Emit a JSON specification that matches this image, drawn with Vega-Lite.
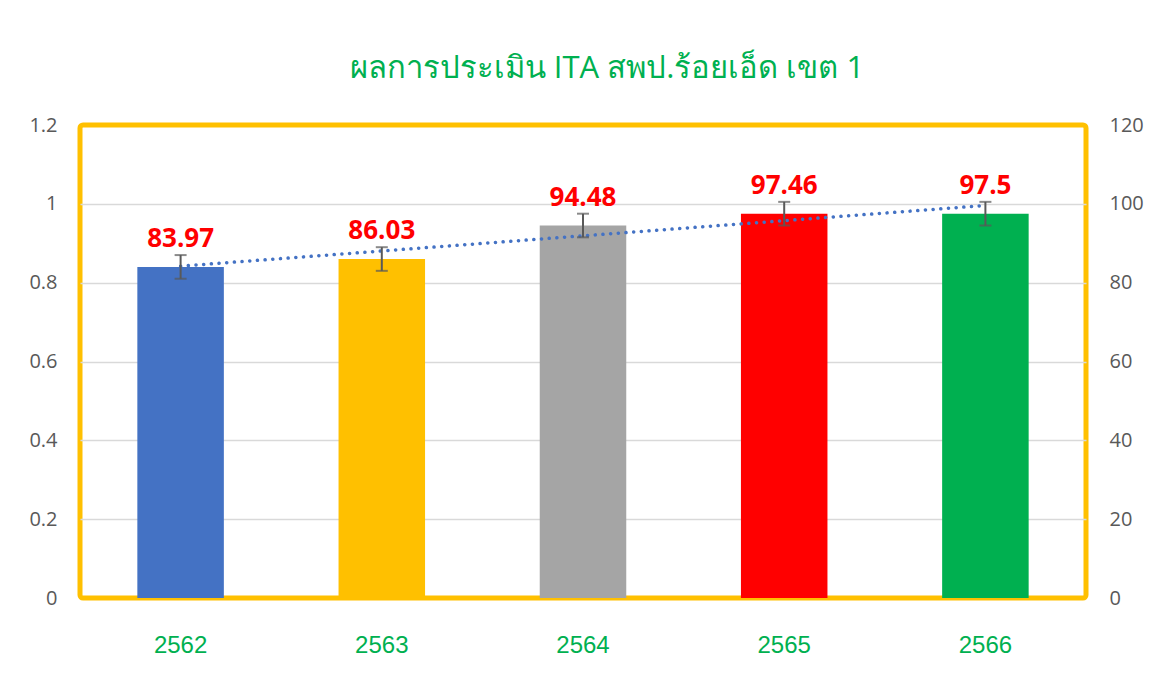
{
  "$schema": "https://vega.github.io/schema/vega-lite/v6.json",
  "width": 1006,
  "height": 473,
  "padding": {"left": 28, "top": 53, "right": 5, "bottom": 5},
  "background": "white",
  "title": {
    "text": "ผลการประเมิน ITA สพป.ร้อยเอ็ด เขต 1",
    "color": "#00B050",
    "fontSize": 31,
    "font": "Open Sans",
    "fontWeight": "normal",
    "dx": 24,
    "offset": 30
  },
  "data": {
    "values": [
      {"year": "2562", "score": 83.97, "lo": 81, "hi": 87, "trend": 84.19},
      {"year": "2563", "score": 86.03, "lo": 83, "hi": 89, "trend": 88.04},
      {"year": "2564", "score": 94.48, "lo": 91.5, "hi": 97.5, "trend": 91.89},
      {"year": "2565", "score": 97.46, "lo": 94.5, "hi": 100.5, "trend": 95.74},
      {"year": "2566", "score": 97.5, "lo": 94.5, "hi": 100.5, "trend": 99.59}
    ]
  },
  "encoding": {
    "x": {
      "field": "year",
      "type": "nominal",
      "scale": {"paddingInner": 0.57, "paddingOuter": 0.285},
      "axis": {
        "title": null,
        "labelAngle": 0,
        "labelColor": "#00B050",
        "labelFont": "Liberation Sans",
        "labelFontSize": 24,
        "labelPadding": 35,
        "ticks": false,
        "domain": false
      }
    }
  },
  "layer": [
    {
      "mark": {"type": "bar"},
      "encoding": {
        "y": {
          "field": "score",
          "type": "quantitative",
          "scale": {"domain": [0, 120], "nice": false},
          "axis": {
            "orient": "left",
            "title": null,
            "values": [0, 20, 40, 60, 80, 100, 120],
            "labelExpr": "format(datum.value/100, '.1~f')",
            "labelFont": "Open Sans",
            "labelFontSize": 20,
            "labelColor": "#595959",
            "labelPadding": 23,
            "ticks": false,
            "domain": false,
            "grid": true,
            "gridColor": {"condition": {"test": "datum.value === 0 || datum.value === 120", "value": "transparent"}, "value": "#d9d9d9"},
            "gridWidth": 1.5
          }
        },
        "color": {
          "field": "year",
          "type": "nominal",
          "scale": {"domain": ["2562", "2563", "2564", "2565", "2566"], "range": ["#4472C4", "#FFC000", "#A5A5A5", "#FF0000", "#00B050"]},
          "legend": null
        }
      }
    },
    {
      "mark": {"type": "line", "color": "#4472C4", "strokeWidth": 3.5, "strokeDash": [0.1, 7.6], "strokeCap": "round"},
      "encoding": {
        "y": {
          "field": "trend",
          "type": "quantitative",
          "scale": {"domain": [0, 120], "nice": false},
          "axis": {
            "orient": "right",
            "title": null,
            "values": [0, 20, 40, 60, 80, 100, 120],
            "labelFont": "Open Sans",
            "labelFontSize": 20,
            "labelColor": "#595959",
            "labelPadding": 23,
            "ticks": false,
            "domain": false,
            "grid": false
          }
        }
      }
    },
    {
      "mark": {"type": "rule", "color": "#595959", "strokeWidth": 2},
      "encoding": {
        "y": {"field": "lo", "type": "quantitative", "scale": {"domain": [0, 120], "nice": false}, "axis": null},
        "y2": {"field": "hi"}
      }
    },
    {
      "mark": {"type": "tick", "color": "#595959", "size": 12, "thickness": 2},
      "encoding": {
        "y": {"field": "lo", "type": "quantitative", "scale": {"domain": [0, 120], "nice": false}, "axis": null}
      }
    },
    {
      "mark": {"type": "tick", "color": "#595959", "size": 12, "thickness": 2},
      "encoding": {
        "y": {"field": "hi", "type": "quantitative", "scale": {"domain": [0, 120], "nice": false}, "axis": null}
      }
    },
    {
      "mark": {"type": "text", "font": "Open Sans", "fontWeight": "bold", "fontSize": 26, "color": "#FF0000", "dy": -20, "baseline": "alphabetic"},
      "encoding": {
        "y": {"field": "score", "type": "quantitative", "scale": {"domain": [0, 120], "nice": false}, "axis": null},
        "text": {"field": "score", "type": "nominal"}
      }
    }
  ],
  "resolve": {"scale": {"y": "independent"}},
  "config": {
    "view": {"stroke": "#FFC000", "strokeWidth": 5, "cornerRadius": 3}
  }
}
